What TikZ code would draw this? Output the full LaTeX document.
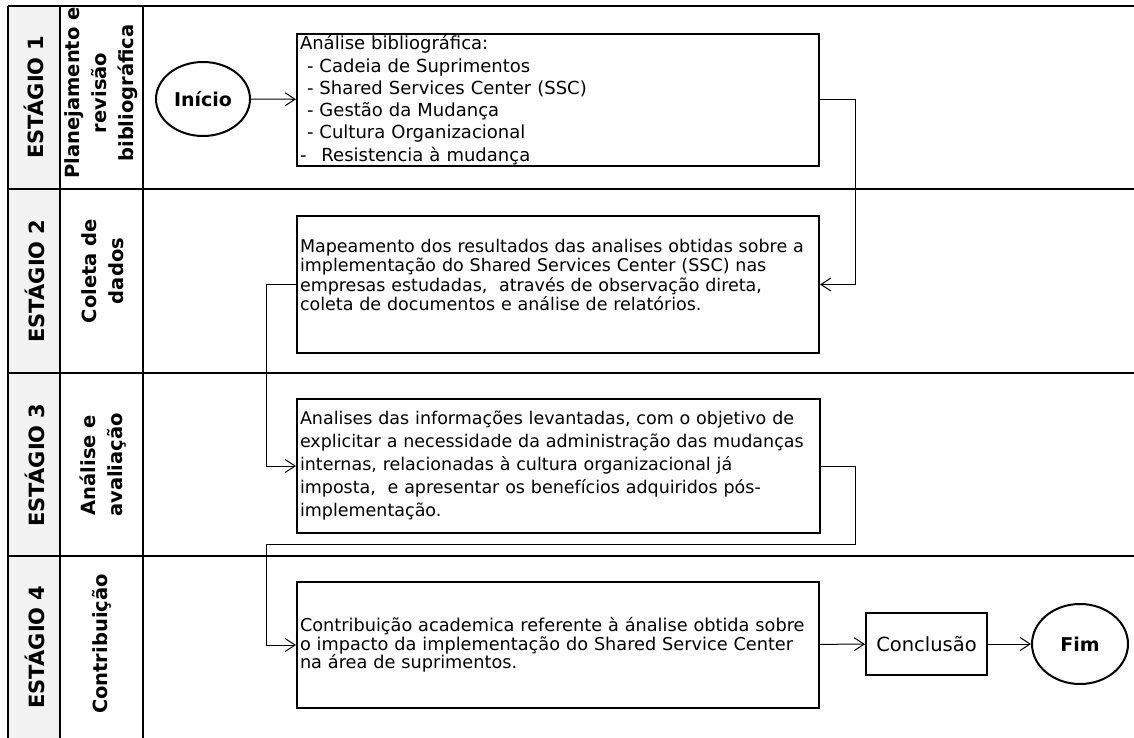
\documentclass[tikz,border=0pt]{standalone}
\usepackage{fontspec}
\setmainfont{DejaVu Sans}
\usepackage{tikz}
\usetikzlibrary{shapes,arrows.meta}

\begin{document}
\begin{tikzpicture}[x=1pt,y=-1pt,
   frame/.style={line width=2.7pt},
   stagebox/.style={draw,line width=2pt,anchor=north west,align=left,inner xsep=3pt,inner ysep=0pt},
   link/.style={line width=1pt,-{Straight Barb[length=10pt,width=13pt]}},
   stagename/.style={rotate=90,font=\fontsize{21}{25}\selectfont\bfseries},
   stagetitle/.style={rotate=90,align=center,font=\fontsize{19.5}{27}\selectfont\bfseries}]
         \useasboundingbox (0,0) rectangle (1134,738);
         % grid of stages
         \fill[gray!10] (8,6) rectangle (60,738);
         \foreach \ypos in {6,189,373,556} {\draw[frame] (8,\ypos) -- (1134,\ypos);}
         \foreach \xpos in {8,60,143} {\draw[frame] (\xpos,6) -- (\xpos,738);}
         \node[stagename] (st1) at (34,97) {ESTÁGIO 1};
         \node[stagename] (st2) at (35,281) {ESTÁGIO 2};
         \node[stagename] (st3) at (35,465) {ESTÁGIO 3};
         \node[stagename] (st4) at (35,647) {ESTÁGIO 4};
         \node[stagetitle] (tt1) at (101,93) {Planejamento e\\revisão\\bibliográfica};
         \node[stagetitle] (tt2) at (103,271) {Coleta de\\dados};
         \node[stagetitle] (tt3) at (103,465) {Análise e\\avaliação};
         \node[stagetitle] (tt4) at (102,644) {Contribuição};
         % steps
         \node[draw,ellipse,line width=2pt,minimum width=94pt,minimum height=74pt,inner sep=0pt,font=\fontsize{19}{23}\selectfont\bfseries] (ini) at (203,99) {Início};
         \node[stagebox,minimum width=522pt,minimum height=132pt,text width=516pt,font=\fontsize{18}{22.3}\selectfont] (b1) at (296,33) {Análise bibliográfica:\\
            \hspace*{7pt}- Cadeia de Suprimentos\\
            \hspace*{7pt}- Shared Services Center (SSC)\\
            \hspace*{7pt}- Gestão da Mudança\\
            \hspace*{7pt}- Cultura Organizacional\\
            -\hspace*{15pt}Resistencia à mudança};
         \node[stagebox,minimum width=522pt,minimum height=137pt,text width=516pt,font=\fontsize{17.5}{19.5}\selectfont] (b2) at (296,215) {Mapeamento dos resultados das analises obtidas sobre a\\
            implementação do Shared Services Center (SSC) nas\\
            empresas estudadas,~ através de observação direta,\\
            coleta de documentos e análise de relatórios.\\ \mbox{}};
         \node[stagebox,minimum width=523pt,minimum height=134pt,text width=517pt,font=\fontsize{17.5}{23}\selectfont] (b3) at (296,398) {Analises das informações levantadas, com o objetivo de\\
            explicitar a necessidade da administração das mudanças\\
            internas, relacionadas à cultura organizacional já\\
            imposta,~ e apresentar os benefícios adquiridos pós-\\
            implementação.};
         \node[stagebox,minimum width=522pt,minimum height=126pt,text width=516pt,font=\fontsize{17.7}{18.5}\selectfont] (b4) at (296,581) {Contribuição academica referente à ánalise obtida sobre\\
            o impacto da implementação do Shared Service Center\\
            na área de suprimentos.};
         \node[draw,line width=2pt,minimum width=121pt,minimum height=62pt,inner sep=0pt,font=\fontsize{19.5}{23}\selectfont] (conc) at (926.5,644) {Conclusão};
         \node[draw,ellipse,line width=2pt,minimum width=96pt,minimum height=80pt,inner sep=0pt,font=\fontsize{19}{23}\selectfont\bfseries] (fim) at (1080,644) {Fim};
         % links
         \coordinate (turn) at (266,544);
         \draw[link] (ini) -- (b1);
         \draw[link] (b1.east) -- ++(35,0) |- (b2.east);
         \draw[link] (b2.west) -- ++(-30,0) |- (b3.west);
         \draw[link] (b3.east) -- ++(34,0) |- (turn) |- (b4.west);
         \draw[link] (b4) -- (conc);
         \draw[link] (conc) -- (fim);
      \end{tikzpicture}
\end{document}
